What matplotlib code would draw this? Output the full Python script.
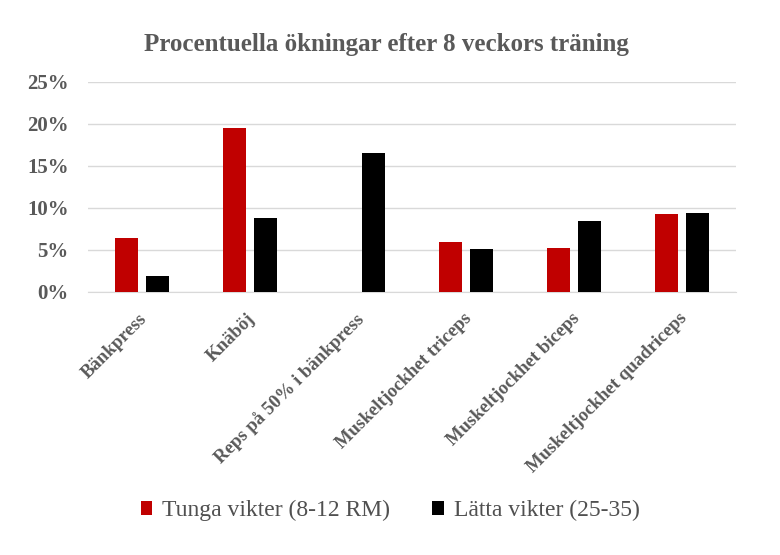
import matplotlib
matplotlib.use("Agg")
import matplotlib.pyplot as plt
import numpy as np

categories = ["Bänkpress", "Knäböj", "Reps på 50% i bänkpress",
              "Muskeltjockhet triceps", "Muskeltjockhet biceps",
              "Muskeltjockhet quadriceps"]
tunga = [6.4, 19.5, 0.0, 5.95, 5.2, 9.25]
latta = [1.95, 8.8, 16.5, 5.1, 8.5, 9.4]
series_names = ["Tunga vikter (8-12 RM)", "Lätta vikter (25-35)"]
yticks = [0, 5, 10, 15, 20, 25]
title = "Procentuella ökningar efter 8 veckors träning"

plt.rcParams['font.family'] = ['Liberation Serif', 'DejaVu Serif']

fig = plt.figure(figsize=(7.8, 5.55), dpi=100)
ax = fig.add_axes([0.1128, 0.4739, 0.8308, 0.3784])

x = np.arange(len(categories))
w = 0.22
off = 0.143
ax.bar(x - off, tunga, w, color="#c00000", label=series_names[0], zorder=3)
ax.bar(x + off, latta, w, color="#000000", label=series_names[1], zorder=3)

ax.set_xlim(-0.5, len(categories) - 0.5)
ax.set_ylim(0, 25)
ax.set_yticks(yticks)
ax.set_yticklabels([f"{v}%" for v in yticks], color="#595959",
                   fontsize=15, fontweight="bold")
ax.yaxis.grid(True, color="#d9d9d9", lw=1, zorder=0)
ax.set_axisbelow(True)
for s in ["top", "right", "left"]:
    ax.spines[s].set_visible(False)
ax.spines["bottom"].set_color("#d9d9d9")
ax.tick_params(axis="y", length=0, pad=14)
ax.tick_params(axis="x", length=0, pad=13)
ax.set_xticks(x - 0.03)
ax.set_xticklabels(categories, rotation=45, ha="right",
                   rotation_mode="anchor", color="#595959",
                   fontsize=13.5, fontweight="bold")

fig.suptitle(title, x=0.495, y=0.94, fontsize=18, fontweight="bold",
             color="#595959")

fig.legend(loc="center", bbox_to_anchor=(0.5, 0.08), ncol=2, frameon=False,
           fontsize=17, handlelength=0.5, handleheight=0.5, handletextpad=0.4,
           columnspacing=1.8, labelcolor="#505050")

fig.savefig("out.png", dpi=100, facecolor="white")
